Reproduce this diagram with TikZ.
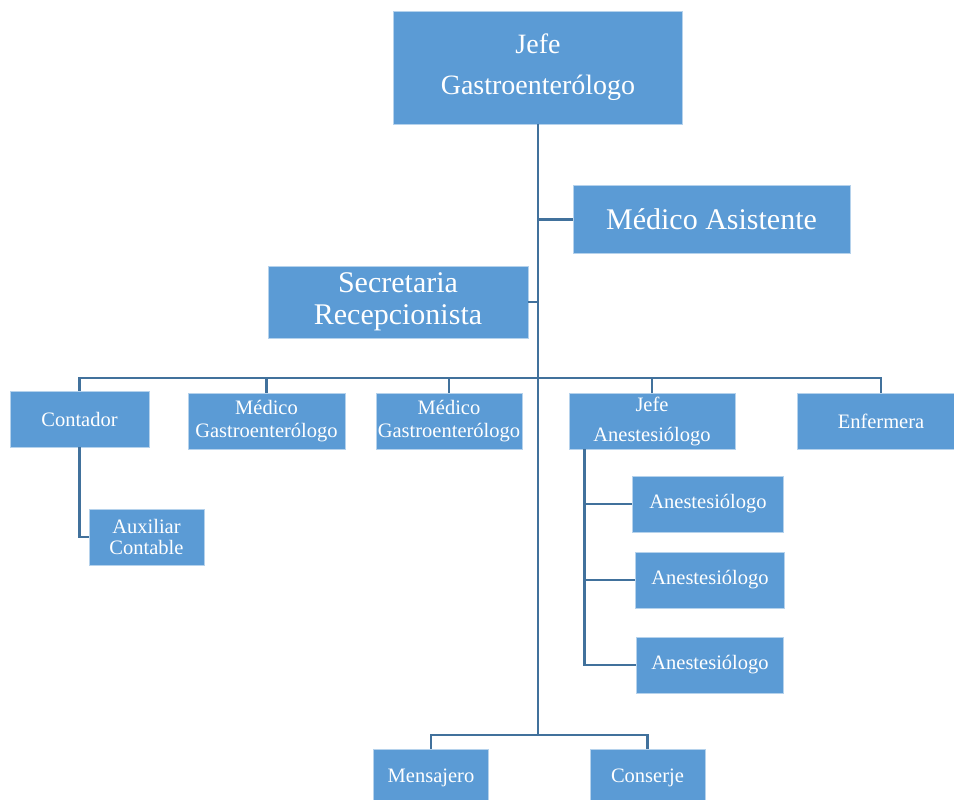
\documentclass[tikz,border=0pt]{standalone}
\usepackage{fontspec}
\setmainfont{Liberation Serif}
\definecolor{boxblue}{HTML}{5B9BD5}
\definecolor{linkblue}{HTML}{41719C}
\tikzset{
  box/.style={rectangle, fill=boxblue, draw=white!55!boxblue, line width=0.8pt,
    text=white, align=center, inner sep=0pt},
  small/.style={box, font=\fontsize{20.5}{23}\selectfont},
  link/.style={draw=linkblue, line width=2.4pt}
}
\begin{document}
\begin{tikzpicture}[x=1pt,y=-1pt]
\useasboundingbox (0,0) rectangle (954,800);
\clip (0,0) rectangle (954,800);
\fill[white] (0,0) rectangle (954,800);
% nodes
\node[box, minimum width=289pt, minimum height=113pt, font=\fontsize{28}{41}\selectfont] (jefe) at (538,67.5) {Jefe\\Gastroenterólogo};
\node[box, minimum width=277pt, minimum height=68pt, font=\fontsize{30}{32}\selectfont] (asist) at (711.5,219.5) {Médico Asistente};
\node[box, minimum width=260pt, minimum height=72pt, font=\fontsize{30}{32}\selectfont] (secr) at (398,302) {Secretaria\\Recepcionista};
\node[small, minimum width=139pt, minimum height=56pt] (cont) at (79.5,419) {Contador};
\node[small, minimum width=157pt, minimum height=56pt] (mg1) at (266.5,421) {Médico\\Gastroenterólogo};
\node[small, minimum width=146pt, minimum height=56pt] (mg2) at (449,421) {Médico\\Gastroenterólogo};
\node[small, minimum width=166pt, minimum height=56pt, font=\fontsize{20.5}{30}\selectfont] (jan) at (652,421) {Jefe\\Anestesiólogo};
\node[small, minimum width=168pt, minimum height=56pt] (enf) at (881,421) {Enfermera};
\node[small, minimum width=115pt, minimum height=56pt, font=\fontsize{20.5}{21}\selectfont] (aux) at (146.5,537) {Auxiliar\\Contable};
\node[small, minimum width=151pt, minimum height=56pt] (an1) at (708,504) {Anestesiólogo};
\node[small, minimum width=149pt, minimum height=56pt] (an2) at (710,580) {Anestesiólogo};
\node[small, minimum width=147pt, minimum height=56pt] (an3) at (710,665) {Anestesiólogo};
\node[small, minimum width=115pt, minimum height=58pt] (mens) at (431,778) {Mensajero};
\node[small, minimum width=115pt, minimum height=58pt] (cons) at (647.5,778) {Conserje};
% junction coordinates
\coordinate (busA) at (538,378);
\coordinate (busB) at (538,735);
\coordinate (janS) at ([xshift=16pt]jan.south west);
% connectors
\draw[link] (jefe.south) -- (busB);
\draw[link] (asist.west) -- (asist.west -| jefe.south);
\draw[link] (secr.east) -- (secr.east -| jefe.south);
\draw[link] (cont.north) |- (busA);
\draw[link] (mg1.north) |- (busA);
\draw[link] (mg2.north) |- (busA);
\draw[link] (jan.north) |- (busA);
\draw[link] (enf.north) |- (busA);
\draw[link] (cont.south) |- (aux.west);
\draw[link] (janS) |- (an1.west);
\draw[link] (janS) |- (an2.west);
\draw[link] (janS) |- (an3.west);
\draw[link] (mens.north) |- (busB);
\draw[link] (cons.north) |- (busB);
\end{tikzpicture}
\end{document}
